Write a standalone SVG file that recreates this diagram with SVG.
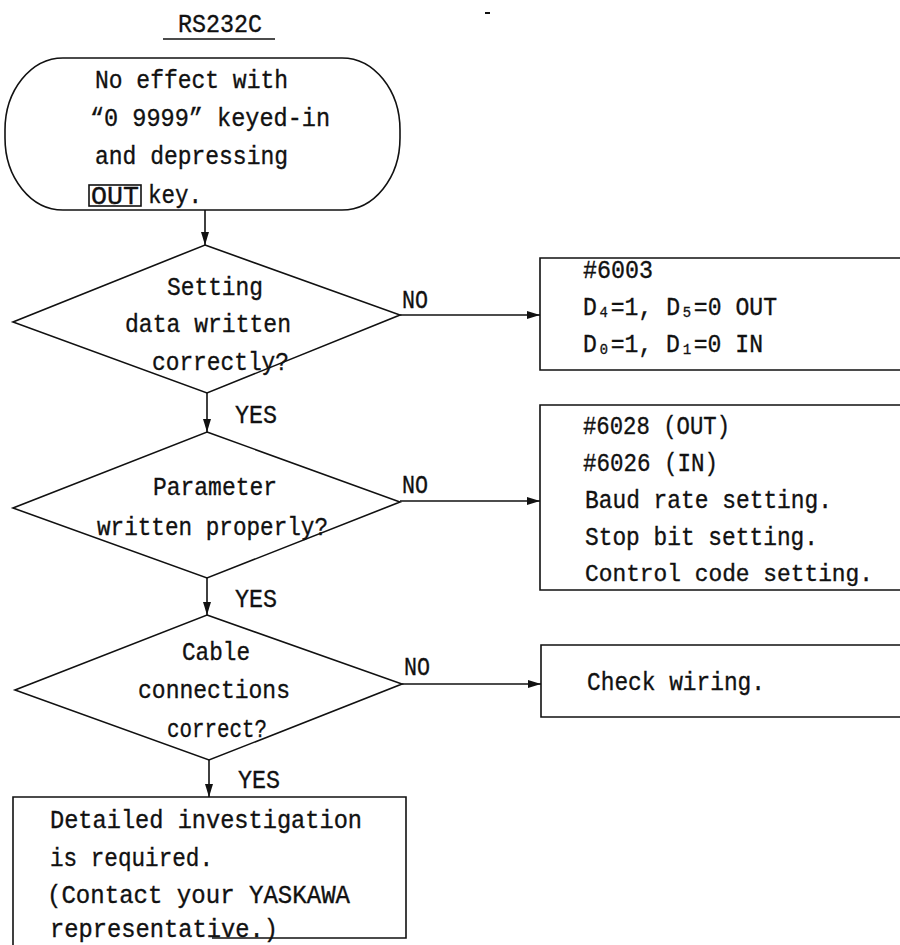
<svg xmlns="http://www.w3.org/2000/svg" width="900" height="945" viewBox="0 0 900 945">
  <style>
    text { font-family: "Liberation Mono", "DejaVu Sans Mono", monospace; font-size: 26px; fill: #111; stroke: #111; stroke-width: 0.35; }
    text.snug { font-size: 23px; }
    .shape { fill: none; stroke: #111; stroke-width: 1.6; }
    .edge { fill: none; stroke: #111; stroke-width: 1.6; }
  </style>
  <defs>
    <marker id="arrow" markerUnits="userSpaceOnUse" markerWidth="13" markerHeight="8" refX="13" refY="4" orient="auto">
      <path d="M0,0 L13,4 L0,8 z" fill="#111"/>
    </marker>
  </defs>
  <rect width="900" height="945" fill="#fff"/>

  <!-- heading -->
  <g id="title">
    <text x="178" y="32" textLength="84" lengthAdjust="spacingAndGlyphs">RS232C</text>
    <line x1="163" y1="39" x2="275" y2="39" class="shape"/>
    <line x1="485" y1="13" x2="490" y2="13" stroke="#111" stroke-width="2"/>
  </g>

  <!-- start terminal -->
  <g id="start">
    <rect x="5" y="58" width="395" height="152" rx="58" ry="72" class="shape"/>
    <text x="95" y="88" textLength="193" lengthAdjust="spacingAndGlyphs">No effect with</text>
    <text x="90" y="126" textLength="240" lengthAdjust="spacingAndGlyphs">“0 9999” keyed-in</text>
    <text x="95" y="164" textLength="193" lengthAdjust="spacingAndGlyphs">and depressing</text>
    <rect x="89" y="185" width="52" height="21" class="shape"/>
    <text x="91" y="204" textLength="48" lengthAdjust="spacingAndGlyphs">OUT</text>
    <text x="148" y="203" textLength="54" lengthAdjust="spacingAndGlyphs">key.</text>
  </g>

  <!-- decision: setting data -->
  <g id="check-setting">
    <polygon points="205,245 400,315 207,393 13,322" class="shape"/>
    <text x="167" y="295" textLength="96" lengthAdjust="spacingAndGlyphs">Setting</text>
    <text x="125" y="332" textLength="166" lengthAdjust="spacingAndGlyphs">data written</text>
    <text x="152" y="370" textLength="137" lengthAdjust="spacingAndGlyphs">correctly?</text>
  </g>

  <!-- decision: parameter -->
  <g id="check-parameter">
    <polygon points="207,432 400,502 207,578 13,508" class="shape"/>
    <text x="153" y="495" textLength="124" lengthAdjust="spacingAndGlyphs">Parameter</text>
    <text x="97" y="535" textLength="231" lengthAdjust="spacingAndGlyphs">written properly?</text>
  </g>

  <!-- decision: cable -->
  <g id="check-cable">
    <polygon points="207,615 402,684 209,760 15,690" class="shape"/>
    <text x="182" y="660" textLength="68" lengthAdjust="spacingAndGlyphs">Cable</text>
    <text x="138" y="698" textLength="152" lengthAdjust="spacingAndGlyphs">connections</text>
    <text x="167" y="737" textLength="100" lengthAdjust="spacingAndGlyphs">correct?</text>
  </g>

  <!-- remedy boxes run off the right edge, so they have no right side -->
  <g id="fix-setting">
    <path d="M900,258 H540 V370 H900" class="shape"/>
    <text x="583" y="278" textLength="70" lengthAdjust="spacingAndGlyphs">#6003</text>
    <text x="583" y="315" textLength="194" lengthAdjust="spacingAndGlyphs">D₄=1, D₅=0 OUT</text>
    <text x="583" y="352" textLength="180" lengthAdjust="spacingAndGlyphs">D₀=1, D₁=0 IN</text>
  </g>

  <g id="fix-parameter">
    <path d="M900,405 H540 V590 H900" class="shape"/>
    <text x="583" y="434" textLength="147" lengthAdjust="spacingAndGlyphs">#6028 (OUT)</text>
    <text x="583" y="471" textLength="135" lengthAdjust="spacingAndGlyphs">#6026 (IN)</text>
    <text x="585" y="508" textLength="247" lengthAdjust="spacingAndGlyphs">Baud rate setting.</text>
    <text x="585" y="545" textLength="233" lengthAdjust="spacingAndGlyphs">Stop bit setting.</text>
    <text class="snug" x="585" y="581" textLength="288" lengthAdjust="spacingAndGlyphs">Control code setting.</text>
  </g>

  <g id="fix-wiring">
    <path d="M900,645 H541 V717 H900" class="shape"/>
    <text x="587" y="690" textLength="178" lengthAdjust="spacingAndGlyphs">Check wiring.</text>
  </g>

  <!-- final outcome -->
  <g id="investigate">
    <path d="M13,945 V797 H406 V938 H212" class="shape"/>
    <text x="50" y="828" textLength="312" lengthAdjust="spacingAndGlyphs">Detailed investigation</text>
    <text x="50" y="866" textLength="163" lengthAdjust="spacingAndGlyphs">is required.</text>
    <text x="47" y="903" textLength="303" lengthAdjust="spacingAndGlyphs">(Contact your YASKAWA</text>
    <text x="50" y="937" textLength="228" lengthAdjust="spacingAndGlyphs">representative.)</text>
  </g>

  <!-- connectors -->
  <g id="connectors">
    <line x1="205" y1="210" x2="205" y2="245" class="edge" marker-end="url(#arrow)"/>
    <line x1="207" y1="393" x2="207" y2="432" class="edge" marker-end="url(#arrow)"/>
    <line x1="207" y1="578" x2="207" y2="615" class="edge" marker-end="url(#arrow)"/>
    <line x1="209" y1="760" x2="209" y2="797" class="edge" marker-end="url(#arrow)"/>
    <line x1="400" y1="315" x2="540" y2="315" class="edge" marker-end="url(#arrow)"/>
    <line x1="400" y1="501" x2="540" y2="501" class="edge" marker-end="url(#arrow)"/>
    <line x1="402" y1="684" x2="541" y2="684" class="edge" marker-end="url(#arrow)"/>
    <text x="402" y="308" textLength="26" lengthAdjust="spacingAndGlyphs">NO</text>
    <text x="402" y="493" textLength="26" lengthAdjust="spacingAndGlyphs">NO</text>
    <text x="404" y="675" textLength="26" lengthAdjust="spacingAndGlyphs">NO</text>
    <text x="235" y="423" textLength="42" lengthAdjust="spacingAndGlyphs">YES</text>
    <text x="235" y="607" textLength="42" lengthAdjust="spacingAndGlyphs">YES</text>
    <text x="238" y="788" textLength="42" lengthAdjust="spacingAndGlyphs">YES</text>
  </g>
</svg>
